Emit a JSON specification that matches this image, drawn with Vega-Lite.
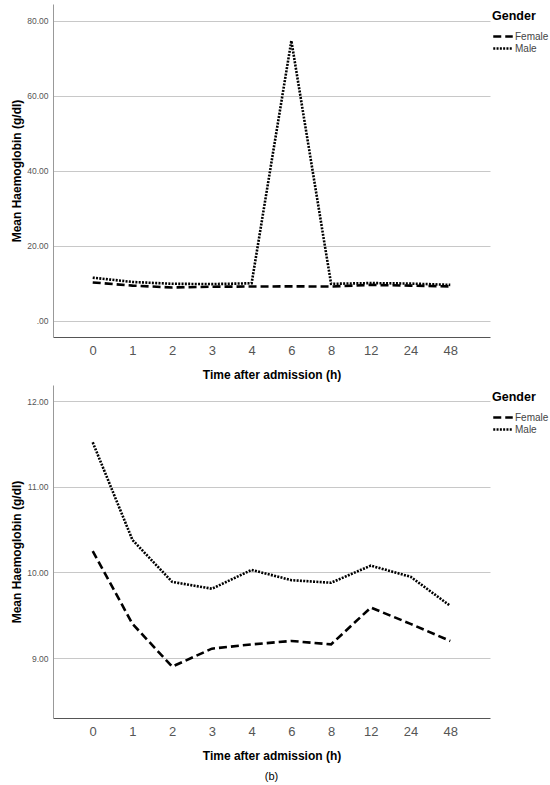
{
  "$schema": "https://vega.github.io/schema/vega-lite/v6.json",
  "padding": {"left": 10, "top": 4, "right": 0, "bottom": 0},
  "config": {
    "font": "Liberation Sans",
    "view": {"stroke": null},
    "axis": {
      "ticks": false,
      "labelColor": "#555",
      "titleColor": "#000",
      "titleFontWeight": "bold",
      "titleFontSize": 12
    },
    "legend": {
      "titleFontSize": 12.5,
      "titleFontWeight": "bold",
      "titleColor": "#000",
      "titlePadding": 8,
      "labelFontSize": 10,
      "labelColor": "#444",
      "symbolType": "stroke",
      "symbolSize": 380,
      "symbolStrokeWidth": 2.5,
      "symbolStrokeColor": "#000",
      "labelOffset": 1,
      "clipHeight": 12,
      "rowPadding": 0,
      "padding": 6,
      "offset": -4
    }
  },
  "datasets": {
    "full": [
      {"time": "0", "gender": "Female", "hb": 10.25},
      {"time": "1", "gender": "Female", "hb": 9.4},
      {"time": "2", "gender": "Female", "hb": 8.9},
      {"time": "3", "gender": "Female", "hb": 9.11},
      {"time": "4", "gender": "Female", "hb": 9.16},
      {"time": "6", "gender": "Female", "hb": 9.2},
      {"time": "8", "gender": "Female", "hb": 9.16},
      {"time": "12", "gender": "Female", "hb": 9.59},
      {"time": "24", "gender": "Female", "hb": 9.4},
      {"time": "48", "gender": "Female", "hb": 9.2},
      {"time": "0", "gender": "Male", "hb": 11.52},
      {"time": "1", "gender": "Male", "hb": 10.38},
      {"time": "2", "gender": "Male", "hb": 9.89},
      {"time": "3", "gender": "Male", "hb": 9.81},
      {"time": "4", "gender": "Male", "hb": 10.03},
      {"time": "6", "gender": "Male", "hb": 74.7},
      {"time": "8", "gender": "Male", "hb": 9.88},
      {"time": "12", "gender": "Male", "hb": 10.08},
      {"time": "24", "gender": "Male", "hb": 9.95},
      {"time": "48", "gender": "Male", "hb": 9.61}
    ],
    "trimmed": [
      {"time": "0", "gender": "Female", "hb": 10.25},
      {"time": "1", "gender": "Female", "hb": 9.4},
      {"time": "2", "gender": "Female", "hb": 8.9},
      {"time": "3", "gender": "Female", "hb": 9.11},
      {"time": "4", "gender": "Female", "hb": 9.16},
      {"time": "6", "gender": "Female", "hb": 9.2},
      {"time": "8", "gender": "Female", "hb": 9.16},
      {"time": "12", "gender": "Female", "hb": 9.59},
      {"time": "24", "gender": "Female", "hb": 9.4},
      {"time": "48", "gender": "Female", "hb": 9.2},
      {"time": "0", "gender": "Male", "hb": 11.52},
      {"time": "1", "gender": "Male", "hb": 10.38},
      {"time": "2", "gender": "Male", "hb": 9.89},
      {"time": "3", "gender": "Male", "hb": 9.81},
      {"time": "4", "gender": "Male", "hb": 10.03},
      {"time": "6", "gender": "Male", "hb": 9.91},
      {"time": "8", "gender": "Male", "hb": 9.88},
      {"time": "12", "gender": "Male", "hb": 10.08},
      {"time": "24", "gender": "Male", "hb": 9.95},
      {"time": "48", "gender": "Male", "hb": 9.61}
    ]
  },
  "spacing": 5,
  "resolve": {
    "scale": {"x": "independent", "y": "independent", "strokeDash": "independent"},
    "legend": {"strokeDash": "independent"}
  },
  "vconcat": [
    {
      "width": 437,
      "height": 333,
      "data": {"name": "full"},
      "mark": {"type": "line", "color": "black", "strokeWidth": 2.6},
      "encoding": {
        "x": {
          "field": "time",
          "type": "ordinal",
          "sort": ["0", "1", "2", "3", "4", "6", "8", "12", "24", "48"],
          "scale": {"type": "point", "padding": 1.05},
          "axis": {
            "title": "Time after admission (h)",
            "labelAngle": 0,
            "labelFontSize": 13,
            "labelPadding": 7,
            "titlePadding": 12,
            "grid": false,
            "domainColor": "#555"
          }
        },
        "y": {
          "field": "hb",
          "type": "quantitative",
          "scale": {"domain": [-4.3, 84.5], "nice": false, "zero": false},
          "axis": {
            "title": "Mean Haemoglobin (g/dl)",
            "values": [0, 20, 40, 60, 80],
            "labelExpr": "datum.value == 0 ? '.00' : format(datum.value, '.2f')",
            "labelFontSize": 8.5,
            "labelPadding": 5,
            "titlePadding": 3,
            "grid": true,
            "gridColor": "#c8c8c8",
            "domainColor": "#999"
          }
        },
        "strokeDash": {
          "field": "gender",
          "type": "nominal",
          "scale": {"domain": ["Female", "Male"], "range": [[8, 4], [2, 1.3]]},
          "legend": {"title": "Gender"}
        }
      }
    },
    {
      "width": 437,
      "height": 333,
      "data": {"name": "trimmed"},
      "title": {"text": "(b)", "orient": "bottom", "fontSize": 11, "fontWeight": "normal", "offset": 10},
      "mark": {"type": "line", "color": "black", "strokeWidth": 2.6},
      "encoding": {
        "x": {
          "field": "time",
          "type": "ordinal",
          "sort": ["0", "1", "2", "3", "4", "6", "8", "12", "24", "48"],
          "scale": {"type": "point", "padding": 1.05},
          "axis": {
            "title": "Time after admission (h)",
            "labelAngle": 0,
            "labelFontSize": 13,
            "labelPadding": 7,
            "titlePadding": 12,
            "grid": false,
            "domainColor": "#555"
          }
        },
        "y": {
          "field": "hb",
          "type": "quantitative",
          "scale": {"domain": [8.3, 12.19], "nice": false, "zero": false},
          "axis": {
            "title": "Mean Haemoglobin (g/dl)",
            "values": [9, 10, 11, 12],
            "format": ".2f",
            "labelFontSize": 8.5,
            "labelPadding": 5,
            "titlePadding": 3,
            "grid": true,
            "gridColor": "#c8c8c8",
            "domainColor": "#999"
          }
        },
        "strokeDash": {
          "field": "gender",
          "type": "nominal",
          "scale": {"domain": ["Female", "Male"], "range": [[8, 4], [2, 1.3]]},
          "legend": {"title": "Gender"}
        }
      }
    }
  ]
}
